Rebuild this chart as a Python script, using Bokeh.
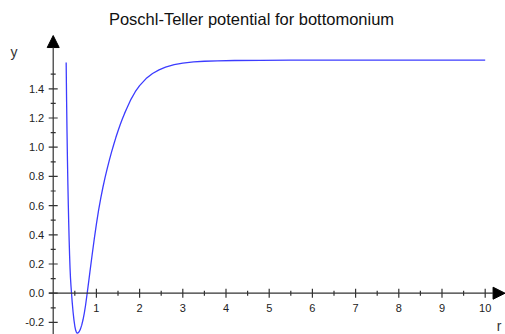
from bokeh.plotting import figure
from bokeh.models import Range1d, Label, Arrow, NormalHead, ColumnDataSource
from bokeh.core.properties import value
from bokeh.embed import file_html
from bokeh.resources import INLINE

# ---- data ----
r_vals = [0.300, 0.310, 0.320, 0.330, 0.340, 0.350, 0.360, 0.370, 0.380, 0.390,
          0.400, 0.412, 0.424, 0.440, 0.460, 0.480, 0.500, 0.520, 0.540, 0.556,
          0.570, 0.600, 0.630, 0.660, 0.690, 0.720, 0.750, 0.787, 0.820, 0.850,
          0.900, 0.950, 1.000, 1.050, 1.100, 1.150, 1.200, 1.250, 1.300, 1.350,
          1.400, 1.450, 1.500, 1.550, 1.600, 1.650, 1.700, 1.800, 1.900, 2.000,
          2.150, 2.300, 2.450, 2.600, 2.800, 3.000, 3.250, 3.500, 3.800, 4.200,
          4.800, 5.500, 6.000, 7.000, 8.000, 9.000, 10.000]
v_vals = [1.580, 1.320, 1.100, 0.910, 0.745, 0.600, 0.470, 0.355, 0.255, 0.170,
          0.105, 0.048, 0.000, -0.063, -0.129, -0.183, -0.225, -0.254, -0.270, -0.274,
          -0.273, -0.264, -0.246, -0.219, -0.182, -0.136, -0.081, 0.000, 0.076, 0.146,
          0.260, 0.370, 0.473, 0.567, 0.650, 0.724, 0.791, 0.853, 0.911, 0.966,
          1.017, 1.066, 1.111, 1.154, 1.193, 1.230, 1.264, 1.328, 1.380, 1.422,
          1.470, 1.505, 1.530, 1.548, 1.565, 1.576, 1.584, 1.589, 1.592, 1.594,
          1.595, 1.596, 1.596, 1.596, 1.596, 1.596, 1.596]

x_major = [1, 2, 3, 4, 5, 6, 7, 8, 9, 10]
x_major_labels = ["1", "2", "3", "4", "5", "6", "7", "8", "9", "10"]
x_minor = [0.5, 1.5, 2.5, 3.5, 4.5, 5.5, 6.5, 7.5, 8.5, 9.5]
y_major = [-0.2, 0.0, 0.2, 0.4, 0.6, 0.8, 1.0, 1.2, 1.4]
y_major_labels = ["-0.2", "0.0", "0.2", "0.4", "0.6", "0.8", "1.0", "1.2", "1.4"]
y_minor = [-0.1, 0.1, 0.3, 0.5, 0.7, 0.9, 1.1, 1.3, 1.5]

title_text = "Poschl-Teller potential for bottomonium"
x_name = "r"
y_name = "y"

FONT = "Liberation Sans"
AX = "#333333"

p = figure(width=505, height=334, output_backend="svg", toolbar_location=None,
           x_axis_location=None, y_axis_location=None,
           x_range=Range1d(-1.220, 10.470), y_range=Range1d(-0.283, 2.005),
           min_border=0, min_border_left=0, min_border_right=0,
           min_border_top=0, min_border_bottom=0)
p.outline_line_color = None
p.xgrid.visible = False
p.ygrid.visible = False
p.background_fill_color = "white"
p.border_fill_color = "white"

# axes lines with arrows
p.add_layout(Arrow(end=NormalHead(size=12, fill_color="black", line_color="black", line_width=1),
                   x_start=-0.1, y_start=0, x_end=10.46, y_end=0,
                   line_color=AX, line_width=1.2))
p.add_layout(Arrow(end=NormalHead(size=12, fill_color="black", line_color="black", line_width=1),
                   x_start=0, y_start=-0.283, x_end=0, y_end=1.765,
                   line_color=AX, line_width=1.2))

# ticks
p.scatter(x=x_major, y=[0] * len(x_major), marker="dash", angle=1.5708, size=9,
          line_color=AX, line_width=1.2)
p.scatter(x=x_minor, y=[0] * len(x_minor), marker="dash", angle=1.5708, size=5,
          line_color=AX, line_width=1.2)
p.scatter(x=[0] * len(y_major), y=y_major, marker="dash", size=9,
          line_color=AX, line_width=1.2)
p.scatter(x=[0] * len(y_minor), y=y_minor, marker="dash", size=5,
          line_color=AX, line_width=1.2)

# tick labels
xs = ColumnDataSource(dict(x=x_major, y=[0] * len(x_major), t=x_major_labels))
p.text(x="x", y="y", text="t", source=xs, text_align="center", text_baseline="middle",
       y_offset=15, text_font=value(FONT), text_font_size="11px", text_color="#222222")
ys = ColumnDataSource(dict(x=[0] * len(y_major), y=y_major, t=y_major_labels))
p.text(x="x", y="y", text="t", source=ys, text_align="right", text_baseline="middle",
       x_offset=-9, text_font=value(FONT), text_font_size="11px", text_color="#222222")

# curve
p.line(r_vals, v_vals, line_color="#3c3cff", line_width=1.3)

# title & axis names
p.add_layout(Label(x=4.59, y=1.881, text=title_text, text_align="center",
                   text_baseline="middle", text_font=FONT, text_font_size="16.5px",
                   text_color="#111111"))
p.add_layout(Label(x=-0.907, y=1.649, text=y_name, text_align="center",
                   text_baseline="middle", text_font=FONT, text_font_size="14px",
                   text_color="#333333"))
p.add_layout(Label(x=10.32, y=-0.228, text=x_name, text_align="center",
                   text_baseline="middle", text_font=FONT, text_font_size="14px",
                   text_color="#333333"))

open("out.html", "w").write(file_html(p, INLINE))
